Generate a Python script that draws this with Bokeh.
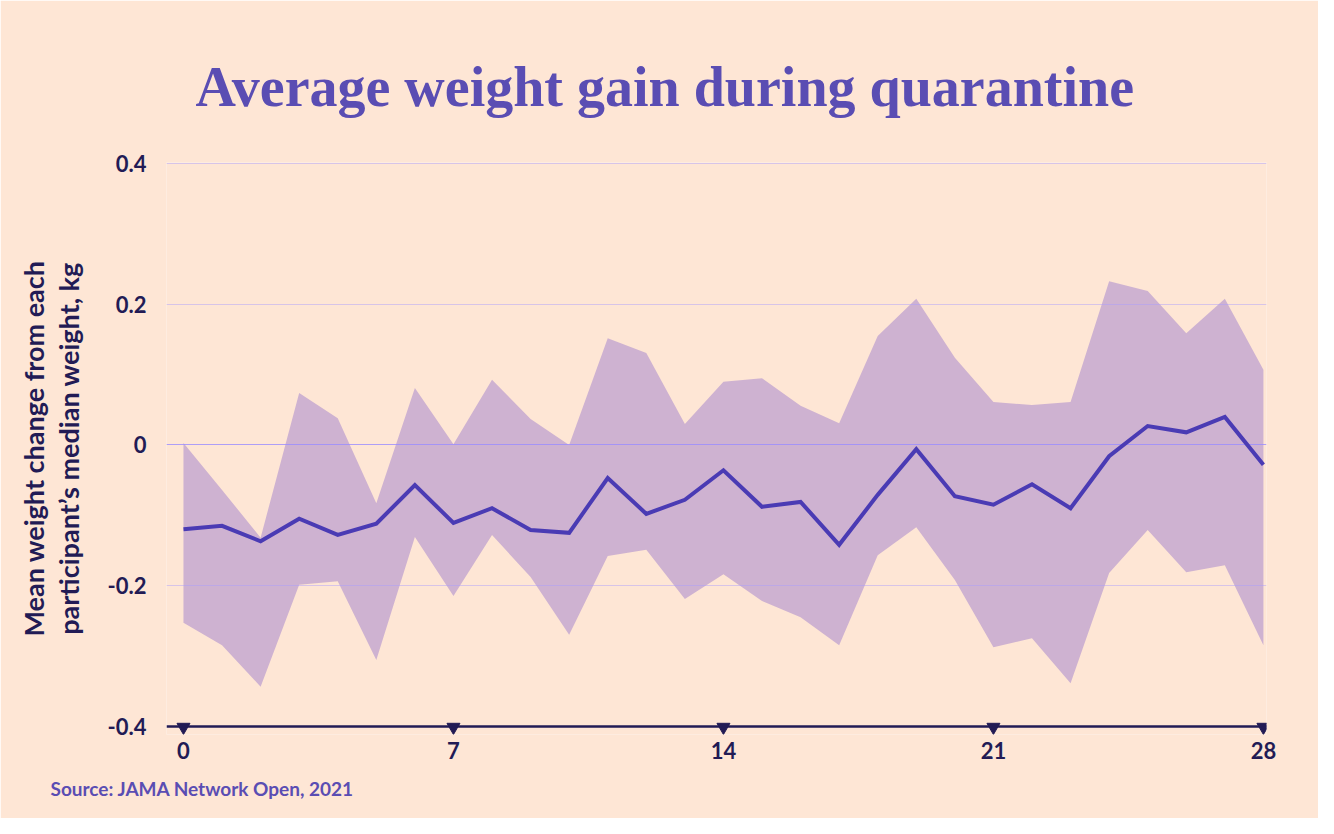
from bokeh.plotting import figure
from bokeh.models import FixedTicker, Title, ColumnDataSource
from bokeh.embed import file_html
from bokeh.resources import INLINE

# ---- data ----
days = list(range(29))
mean_change = [-0.120, -0.115, -0.137, -0.105, -0.128, -0.112, -0.057, -0.111, -0.090, -0.121,
               -0.125, -0.047, -0.098, -0.078, -0.036, -0.088, -0.081, -0.142, -0.071, -0.006,
               -0.073, -0.085, -0.056, -0.090, -0.016, 0.027, 0.018, 0.040, -0.028]
upper = [0.003, -0.064, -0.132, 0.074, 0.038, -0.083, 0.081, 0.001, 0.093, 0.037,
         0.000, 0.152, 0.131, 0.030, 0.090, 0.095, 0.056, 0.031, 0.155, 0.208,
         0.124, 0.061, 0.057, 0.061, 0.233, 0.219, 0.159, 0.208, 0.107]
lower = [-0.253, -0.285, -0.344, -0.199, -0.194, -0.306, -0.131, -0.215, -0.128, -0.188,
         -0.270, -0.158, -0.149, -0.219, -0.184, -0.222, -0.245, -0.285, -0.157, -0.117,
         -0.192, -0.288, -0.275, -0.339, -0.182, -0.121, -0.181, -0.171, -0.285]
x_ticks = [0, 7, 14, 21, 28]
y_ticks = [-0.4, -0.2, 0.0, 0.2, 0.4]
y_tick_labels = ["-0.4", "-0.2", "0", "0.2", "0.4"]
grid_light = [0.4, 0.2, -0.2]
grid_zero = [0.0]
axis_base = [-0.4]

TITLE = "Average weight gain during quarantine"
YLABEL = "Mean weight change from each\nparticipant\u2019s median weight, kg"
SOURCE = "Source: JAMA Network Open, 2021"

BG = "#fee6d5"
DARK = "#221b55"
PURPLE = "#5a4db3"
LINE = "#4a3bb4"

p = figure(width=1318, height=818, x_range=(-0.44, 28.08), y_range=(-0.412, 0.402),
           output_backend="svg", toolbar_location=None,
           background_fill_color=BG, border_fill_color=BG, outline_line_color=None,
           min_border_left=166, min_border_right=52, min_border_top=162, min_border_bottom=84)

src = ColumnDataSource(dict(day=days, mean=mean_change, up=upper, lo=lower))

# band
p.varea(x="day", y1="lo", y2="up", source=src, fill_color="#8864cb", fill_alpha=0.4)
# grid lines
p.hspan(y=grid_light, line_color="#a89cff", line_alpha=0.45, line_width=1.2)
p.hspan(y=grid_zero, line_color="#9a8cff", line_alpha=0.8, line_width=1.2)
# mean line
p.line(x="day", y="mean", source=src, line_color=LINE, line_width=4, line_join="miter")
# base axis line
p.hspan(y=axis_base, line_color=DARK, line_width=2.5)
# tick markers
p.scatter(x=x_ticks, y=[-0.4014] * len(x_ticks), marker="inverted_triangle", size=13,
          fill_color=DARK, line_color=DARK)

p.xgrid.visible = False
p.ygrid.visible = False

xa = p.xaxis[0]
xa.ticker = FixedTicker(ticks=x_ticks)
xa.axis_line_color = None
xa.major_tick_line_color = None
xa.minor_tick_line_color = None
xa.major_label_standoff = 1
xa.major_label_text_font = "Lato"
xa.major_label_text_font_style = "bold"
xa.major_label_text_font_size = "22px"
xa.major_label_text_color = DARK

ya = p.yaxis[0]
ya.ticker = FixedTicker(ticks=y_ticks)
ya.major_label_overrides = {t: s for t, s in zip(y_ticks, y_tick_labels)}
ya.axis_line_color = None
ya.major_tick_line_color = None
ya.minor_tick_line_color = None
ya.major_label_standoff = 14
ya.major_label_text_font = "Lato"
ya.major_label_text_font_style = "bold"
ya.major_label_text_font_size = "22px"
ya.major_label_text_color = DARK
ya.axis_label = YLABEL
ya.axis_label_text_font = "Lato"
ya.axis_label_text_font_style = "bold"
ya.axis_label_text_font_size = "27px"
ya.axis_label_text_line_height = 1.05
ya.axis_label_text_color = DARK
ya.axis_label_standoff = 20

p.add_layout(Title(text=TITLE, align="left", offset=29, standoff=89,
                   text_font="Liberation Serif", text_font_style="bold",
                   text_font_size="56px", text_color=PURPLE), "above")
p.add_layout(Title(text=SOURCE, align="left", offset=-116, standoff=26,
                   text_font="Lato", text_font_style="bold",
                   text_font_size="19px", text_color=PURPLE), "below")

open("out.html", "w").write(file_html(p, INLINE))
